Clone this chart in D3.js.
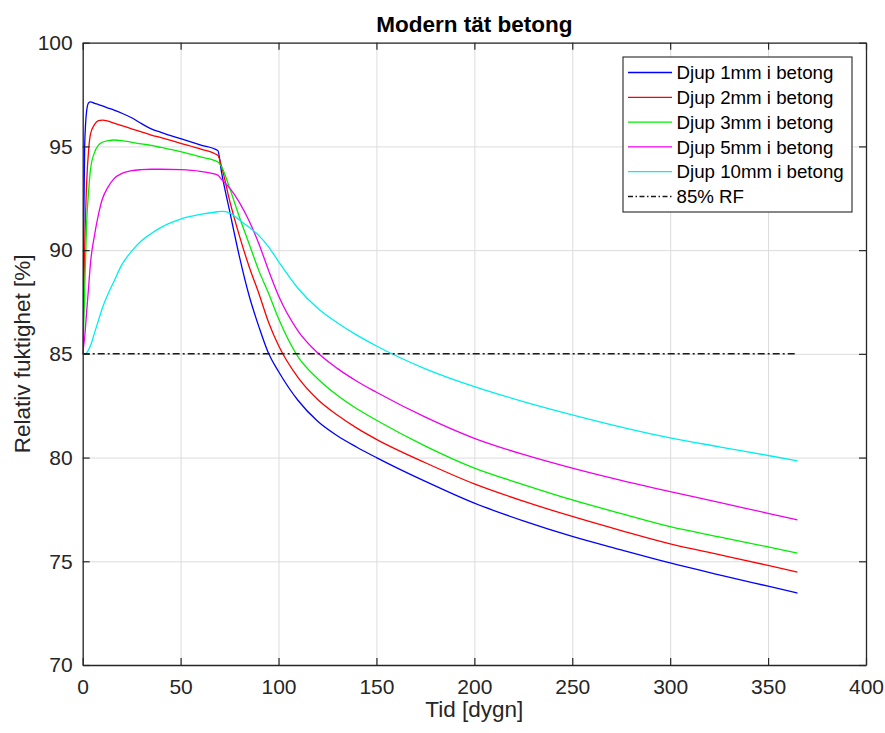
<!DOCTYPE html>
<html>
<head>
<meta charset="utf-8">
<script src="https://cdn.jsdelivr.net/npm/d3@7"></script>
<style>
    body { margin: 0; background: #fff; }
    svg { display: block; font-family: "Liberation Sans", Arial, sans-serif; }
    .grid line { stroke: #dcdcdc; stroke-width: 1; }
    .grid path { display: none; }
    .tick text { fill: #262626; font-size: 21px; }
    .frame line, .frame path { stroke: #262626; }
</style>
</head>
<body>
<svg id="chart" width="885" height="733"></svg>
<script>
// Tid [dygn], shared by all curves
const days = [0, 0.5, 1, 2, 3, 4, 6, 8, 10, 13, 16, 20, 25, 30, 35, 40, 50, 60, 69, 71,
              75, 80, 85, 90, 95, 100, 110, 120, 130, 140, 150, 175, 200, 225, 250, 275, 300, 325, 350, 365];

// Relativ fuktighet [%] per depth
const depth1mm = [85, 90.5, 95.0, 96.7, 97.1, 97.15, 97.08, 97.02, 96.95, 96.85, 96.75, 96.6, 96.38, 96.1, 95.85, 95.68, 95.37, 95.07, 94.8, 93.7,
                  91.9, 89.7, 87.8, 86.3, 85.0, 84.15, 82.75, 81.75, 81.05, 80.5, 80.0, 78.85, 77.8, 76.95, 76.2, 75.55, 74.92, 74.35, 73.8, 73.47];
const depth2mm = [85, 87.5, 90.0, 93.2, 94.8, 95.6, 96.05, 96.24, 96.27, 96.22, 96.12, 96.0, 95.85, 95.7, 95.55, 95.42, 95.15, 94.88, 94.57, 94.0,
                  92.4, 90.7, 89.2, 87.9, 86.5, 85.4, 83.85, 82.8, 82.05, 81.42, 80.88, 79.75, 78.73, 77.9, 77.16, 76.48, 75.84, 75.32, 74.8, 74.48];
const depth3mm = [85, 86.3, 88.0, 91.3, 92.8, 93.9, 94.7, 95.05, 95.2, 95.28, 95.31, 95.28, 95.2, 95.12, 95.05, 94.95, 94.75, 94.5, 94.25, 94.0,
                  93.0, 91.6, 90.3, 89.0, 87.9, 86.7, 84.85, 83.8, 83.0, 82.35, 81.8, 80.55, 79.49, 78.7, 77.96, 77.3, 76.67, 76.18, 75.69, 75.39];
const depth5mm = [85, 85.4, 85.8, 87.0, 88.2, 89.4, 90.7, 91.7, 92.45, 93.05, 93.45, 93.7, 93.83, 93.88, 93.9, 93.9, 93.88, 93.8, 93.62, 93.4,
                  93.0, 92.3, 91.4, 90.3, 89.0, 87.8, 86.1, 85.05, 84.3, 83.68, 83.15, 81.95, 80.93, 80.15, 79.49, 78.9, 78.36, 77.84, 77.31, 77.0];
const depth10mm = [85, 85.0, 84.97, 85.05, 85.2, 85.4, 86.0, 86.6, 87.2, 87.9, 88.5, 89.3, 89.95, 90.45, 90.8, 91.1, 91.5, 91.72, 91.85, 91.87,
                   91.8, 91.45, 91.1, 90.7, 90.15, 89.45, 88.15, 87.2, 86.5, 85.9, 85.38, 84.28, 83.42, 82.7, 82.06, 81.47, 80.95, 80.52, 80.1, 79.84];

// 85% RF reference line
const rfLevel = 85;
const rfDays = [0, 365];

const seriesNames = ['Djup 1mm i betong', 'Djup 2mm i betong', 'Djup 3mm i betong',
                     'Djup 5mm i betong', 'Djup 10mm i betong'];
const seriesValues = [depth1mm, depth2mm, depth3mm, depth5mm, depth10mm];
const seriesColors = ['#0000ff', '#ff0000', '#00ee00', '#ee00ee', '#00eeee'];

const xTicks = [0, 50, 100, 150, 200, 250, 300, 350, 400];
const yTicks = [70, 75, 80, 85, 90, 95, 100];

let svg = d3.select('#chart');

// Plot area
let margin = {'left': 82.7, 'top': 42.7, 'right': 885 - 866, 'bottom': 733 - 665};
let width = 885 - margin.left - margin.right,
    height = 733 - margin.top - margin.bottom;

let chart = svg.append('g')
    .attr('transform', `translate(${margin.left}, ${margin.top})`);

// Set scales
let x = d3.scaleLinear().domain([0, 400]).range([0, width]);
let y = d3.scaleLinear().domain([70, 100]).range([height, 0]);

// Grid
chart.append('g').attr('class', 'grid')
    .attr('transform', `translate(0, ${height})`)
    .call(d3.axisBottom(x).tickValues(xTicks).tickSize(-height).tickFormat(''));
chart.append('g').attr('class', 'grid')
    .call(d3.axisLeft(y).tickValues(yTicks).tickSize(-width).tickFormat(''));

// Curves
chart.append('clipPath').attr('id', 'clip')
    .append('rect').attr('width', width).attr('height', height);

let lineGen = d3.line()
    .curve(d3.curveMonotoneX)
    .x(d => x(d[0]))
    .y(d => y(d[1]));

let lines = chart.append('g').attr('clip-path', 'url(#clip)');

seriesValues.forEach(function(vals, i) {
    lines.append('path')
        .datum(days.map((t, j) => [t, vals[j]]))
        .attr('fill', 'none')
        .attr('stroke', seriesColors[i])
        .attr('stroke-width', 1.3)
        .attr('d', lineGen);
});

lines.append('path')
    .datum(rfDays.map(t => [t, rfLevel]))
    .attr('fill', 'none')
    .attr('stroke', '#1a1a1a')
    .attr('stroke-width', 1.5)
    .attr('stroke-dasharray', '7,3,2,3')
    .attr('d', d3.line().x(d => x(d[0])).y(d => y(d[1])));

// Axes, ticks pointing inward on all four sides
let frame = chart.append('g').attr('class', 'frame');
let xAxis = frame.append('g')
    .attr('transform', `translate(0, ${height})`)
    .call(d3.axisBottom(x).tickValues(xTicks).tickSizeInner(-7).tickSizeOuter(0).tickPadding(14));
frame.append('g')
    .call(d3.axisTop(x).tickValues(xTicks).tickSizeInner(-7).tickSizeOuter(0).tickFormat(''));
let yAxis = frame.append('g')
    .call(d3.axisLeft(y).tickValues(yTicks).tickSizeInner(-7).tickSizeOuter(0).tickPadding(10));
frame.append('g')
    .attr('transform', `translate(${width}, 0)`)
    .call(d3.axisRight(y).tickValues(yTicks).tickSizeInner(-7).tickSizeOuter(0).tickFormat(''));
frame.selectAll('.domain').attr('stroke-width', 1.3);
frame.selectAll('.tick line').attr('stroke-width', 1.2);
xAxis.selectAll('text').attr('dy', '0.71em');

// Title and axis labels
svg.append('text')
    .attr('x', margin.left + width / 2).attr('y', 32)
    .attr('text-anchor', 'middle')
    .attr('font-size', '22.5px').attr('font-weight', 'bold')
    .attr('fill', '#000')
    .text('Modern tät betong');
svg.append('text')
    .attr('x', margin.left + width / 2).attr('y', 717)
    .attr('text-anchor', 'middle')
    .attr('font-size', '22.5px').attr('fill', '#262626')
    .text('Tid [dygn]');
svg.append('text')
    .attr('transform', `translate(${30}, ${margin.top + height / 2}) rotate(-90)`)
    .attr('text-anchor', 'middle')
    .attr('font-size', '22.5px').attr('fill', '#262626')
    .text('Relativ fuktighet [%]');

// Legend
let legend = svg.append('g').attr('transform', `translate(${623}, ${57})`);
legend.append('rect')
    .attr('width', 229).attr('height', 155)
    .attr('fill', '#fff').attr('stroke', '#262626').attr('stroke-width', 1.1);

let legItems = seriesNames.map((n, i) => ({'name': n, 'color': seriesColors[i], 'dash': null}));
legItems.push({'name': '85% RF', 'color': '#1a1a1a', 'dash': '5,2.5,1.5,2.5'});

legItems.forEach(function(d, i) {
    let row = legend.append('g').attr('transform', `translate(0, ${15.5 + i * 24.8})`);
    row.append('line')
        .attr('x1', 5).attr('x2', 49)
        .attr('stroke', d.color)
        .attr('stroke-width', d.dash ? 1.5 : 1.3)
        .attr('stroke-dasharray', d.dash);
    row.append('text')
        .attr('x', 53.5).attr('dy', '0.36em')
        .attr('font-size', '18.7px').attr('fill', '#000')
        .text(d.name);
});
</script>
</body>
</html>
